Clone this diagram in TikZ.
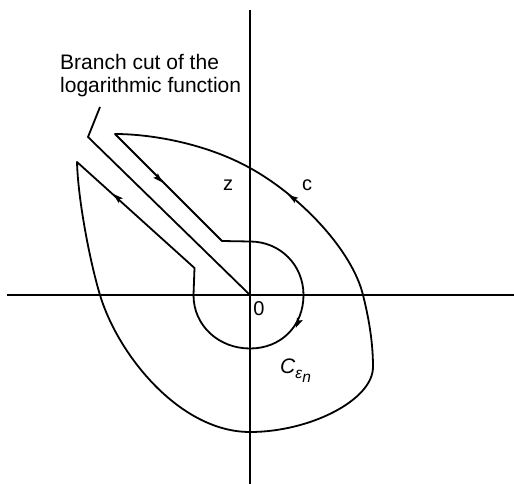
\documentclass[tikz,border=0pt]{standalone}
\usepackage{fontspec}
\setmainfont{Liberation Sans}
\usetikzlibrary{calc}
\newcommand\headat[2]{\fill ($(#1)$) -- ($(#1)!10pt!(#2)!3.2pt!90:(#1)$)
  -- ($(#1)!8pt!(#2)$) -- ($(#1)!10pt!(#2)!3.2pt!-90:(#1)$) -- cycle;}
\begin{document}
\begin{tikzpicture}[x=1pt,y=-1pt,
  axis/.style={line width=1.8pt},
  curve/.style={line width=1.8pt, line join=round},
  lbl/.style={inner sep=0pt, font=\fontsize{20}{22}\selectfont}]
\useasboundingbox (0,0) rectangle (514,484);
% axes
\coordinate (xl) at (7,295);
\coordinate (xr) at (514,295);
\coordinate (yt) at (250,10);
\coordinate (yb) at (250,484);
\coordinate (O) at (250,295);
\draw[axis] (xl) -- (xr);
\draw[axis] (yt) -- (yb);
% branch cut and leader
\coordinate (K1) at (88,137);
\coordinate (K2) at (100,107);
\draw[curve] (O) -- (K1) -- (K2);
\node[anchor=north west, inner sep=0pt, align=left,
      font=\fontsize{21}{23}\selectfont] (cutlabel) at (60,54)
      {Branch cut of the\\logarithmic function};
% contour
\coordinate (A) at (115,134);
\coordinate (B) at (222,241);
\coordinate (T) at (250,241.5);
\coordinate (R) at (303.5,295);
\coordinate (S) at (250,348.5);
\coordinate (L) at (193.5,295);
\coordinate (D) at (194.5,268);
\coordinate (E) at (77,162);
\coordinate (P1) at (100,295);
\coordinate (P2) at (250,432);
\coordinate (P3) at (373,367);
\coordinate (P4) at (363,295);
\coordinate (P5) at (250,168);
\draw[curve] (A) -- (B) -- (T)
  .. controls (280,241.5) and (303.5,265) .. (R)
  .. controls (303.5,326) and (281,348.5) .. (S)
  .. controls (219,348.5) and (193.5,326) .. (L)
  -- (D) -- (E)
  .. controls (78,200) and (90,262) .. (P1)
  .. controls (118,355) and (180,432) .. (P2)
  .. controls (310,432) and (373,400) .. (P3)
  .. controls (373,340) and (368,315) .. (P4)
  .. controls (352,250) and (300,195.5) .. (P5)
  .. controls (205,143) and (150,134) .. (A) -- cycle;
% arrowheads along the contour (tip, tail direction)
\coordinate (a1e) at (162.5,182.5);
\coordinate (a1s) at (152,172);
\coordinate (a2e) at (295.8,327.8);
\coordinate (a2s) at (299.6,319.5);
\coordinate (a3e) at (113.3,194);
\coordinate (a3s) at (120.8,200.7);
\coordinate (a4e) at (288.3,195);
\coordinate (a4s) at (296.7,200.5);
\headat{a1e}{a1s}
\headat{a2e}{a2s}
\headat{a3e}{a3s}
\headat{a4e}{a4s}
% labels
\node[lbl, anchor=base] (zlab) at (228,190) {z};
\node[lbl, anchor=base] (clab) at (307,190) {c};
\node[lbl, anchor=base] (olab) at (259,315.7) {0};
\node[lbl, anchor=base west, font=\fontsize{21}{22}\selectfont] (celab) at (280,373.3)
  {\textit{C}\raisebox{-5.4pt}{\fontsize{15.5}{16}\selectfont\textit{ε}}\raisebox{-9.4pt}{\fontsize{15.5}{16}\selectfont\textit{n}}};
\end{tikzpicture}
\end{document}
